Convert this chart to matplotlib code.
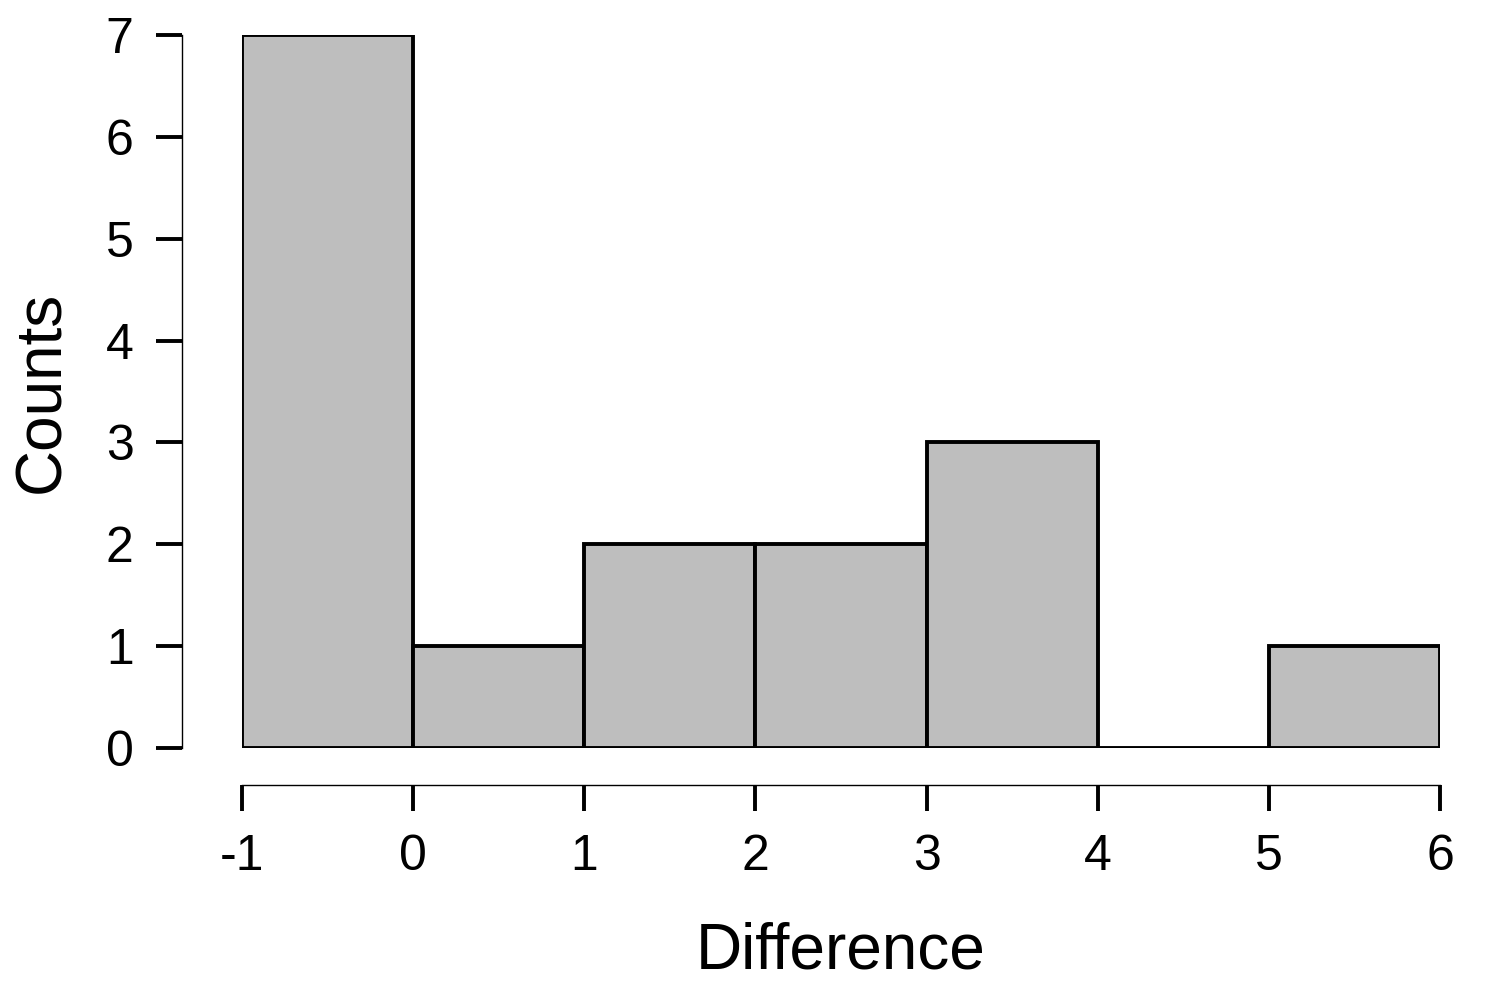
import matplotlib
matplotlib.use("Agg")
import matplotlib.pyplot as plt

bin_edges = [-1, 0, 1, 2, 3, 4, 5, 6]
counts = [7, 1, 2, 2, 3, 0, 1]
x_ticks = [-1, 0, 1, 2, 3, 4, 5, 6]
y_ticks = [0, 1, 2, 3, 4, 5, 6, 7]

plt.rcParams['font.family'] = ['Liberation Sans', 'DejaVu Sans']

fig = plt.figure(figsize=(15, 10), dpi=100)
ax = fig.add_axes([242/1500, 252/1000, 1198/1500, 713/1000])

lefts = bin_edges[:-1]
widths = [b - a for a, b in zip(bin_edges[:-1], bin_edges[1:])]
ax.bar(lefts, counts, width=widths, align='edge', color='#BEBEBE',
       edgecolor='black', linewidth=2.8)

ax.set_xlim(-1, 6)
ax.set_ylim(0, 7)
ax.spines['top'].set_visible(False)
ax.spines['right'].set_visible(False)
ax.spines['left'].set_position(('outward', 43))
ax.spines['bottom'].set_position(('outward', 26.6))
ax.spines['left'].set_bounds(0, 7)
ax.spines['bottom'].set_bounds(-1, 6)
for s in ['left', 'bottom']:
    ax.spines[s].set_linewidth(1.0)

ax.set_xticks(x_ticks)
ax.set_xticklabels([str(v) for v in x_ticks])
ax.set_yticks(y_ticks)
ax.set_yticklabels([str(v) for v in y_ticks])
ax.tick_params(axis='both', length=19, width=2.8, labelsize=36, pad=16)

ax.set_xlabel('Difference', fontsize=46, labelpad=30)
ax.set_ylabel('Counts', fontsize=46, labelpad=24)

fig.savefig('out.png', dpi=100)
